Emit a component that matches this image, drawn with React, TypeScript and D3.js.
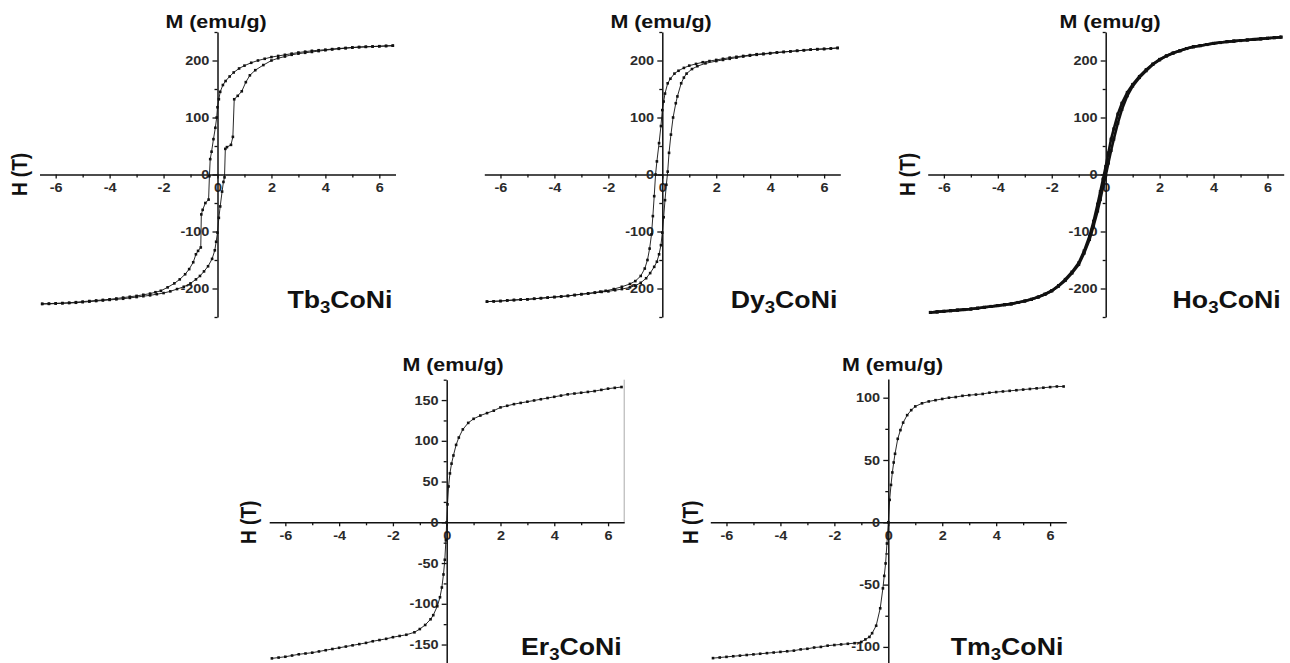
import * as d3 from "d3";
import { useEffect, useRef } from "react";

type Pt = [number, number];

// H axis ticks (T)
const H_TICKS = [-6, -4, -2, 0, 2, 4, 6];
const H_MINOR = [-5, -3, -1, 1, 3, 5];

// M axis ticks (emu/g)
const M_TICKS_250 = [-200, -100, 0, 100, 200];
const M_MINOR_250 = [-250, -150, -50, 50, 150, 250];
const M_TICKS_175 = [-150, -100, -50, 0, 50, 100, 150];
const M_MINOR_175 = [-175, -125, -75, -25, 25, 75, 125, 175];
const M_TICKS_115 = [-100, -50, 0, 50, 100];
const M_MINOR_115 = [-75, -25, 25, 75];

// Tb3CoNi loop
const tbDown: Pt[] = [
  [6.5, 226], [6.25, 225.5], [6, 225], [5.75, 224.5], [5.5, 224], [5.25, 223.5], [5, 223],
  [4.75, 222], [4.5, 221], [4.25, 220], [4, 219], [3.75, 218], [3.5, 217], [3.25, 215.5], [3, 214],
  [2.75, 212], [2.5, 210], [2.25, 208], [2, 206], [1.75, 203], [1.5, 200], [1.25, 196], [1, 191],
  [0.8, 186], [0.6, 179], [0.45, 172], [0.3, 164], [0.2, 157], [0.1, 145], [0.05, 132], [0, 118],
  [-0.03, 100], [-0.08, 82], [-0.15, 62], [-0.22, 40], [-0.27, 27], [-0.3, -3], [-0.33, -44],
  [-0.45, -50], [-0.55, -62], [-0.6, -70], [-0.62, -128], [-0.72, -134], [-0.8, -140], [-0.9, -154],
  [-1.05, -166], [-1.2, -175], [-1.4, -184], [-1.6, -191], [-1.85, -198], [-2.1, -204], [-2.3, -206.5],
  [-2.5, -209], [-2.75, -211], [-3, -213], [-3.25, -214.5], [-3.5, -216], [-3.75, -217.5], [-4, -219],
  [-4.25, -220], [-4.5, -221], [-4.75, -222], [-5, -223], [-5.25, -224], [-5.5, -225], [-5.75, -225.5],
  [-6, -226], [-6.25, -226.5], [-6.5, -227],
];
const tbUp: Pt[] = [
  [-6.5, -227], [-6.25, -227], [-6, -226.5], [-5.75, -226], [-5.5, -225.5], [-5.25, -225], [-5, -224],
  [-4.75, -223], [-4.5, -222], [-4.25, -221], [-4, -220], [-3.75, -219], [-3.5, -218], [-3.25, -216.5],
  [-3, -215], [-2.75, -213.5], [-2.5, -212], [-2.25, -210], [-2, -208], [-1.75, -205], [-1.5, -201],
  [-1.25, -197], [-1, -191], [-0.8, -184], [-0.65, -178], [-0.5, -170], [-0.35, -161], [-0.2, -148],
  [-0.1, -133], [-0.05, -118], [0, -102], [0.05, -76], [0.1, -56], [0.17, -30], [0.22, -13],
  [0.26, -5], [0.29, 45], [0.35, 48], [0.5, 52], [0.57, 66], [0.62, 132], [0.75, 138], [0.9, 146],
  [1.05, 162], [1.2, 174], [1.4, 183], [1.7, 192], [2, 200], [2.25, 204], [2.5, 207], [2.75, 210],
  [3, 212], [3.25, 213.5], [3.5, 215], [3.75, 216.5], [4, 218], [4.25, 219.5], [4.5, 220.5],
  [4.75, 221.5], [5, 222.5], [5.25, 223.5], [5.5, 224], [5.75, 224.5], [6, 225], [6.25, 225.5], [6.5, 226],
];

// Dy3CoNi loop
const dyDown: Pt[] = [
  [6.5, 222], [6.25, 221], [6, 220], [5.75, 219.5], [5.5, 219], [5.25, 218], [5, 217], [4.75, 216],
  [4.5, 215], [4.25, 214], [4, 213], [3.75, 212], [3.5, 211], [3.25, 209.5], [3, 208], [2.75, 206.5],
  [2.5, 205], [2.25, 203], [2, 201], [1.75, 199], [1.5, 197], [1.25, 194], [1, 191], [0.8, 187],
  [0.6, 182], [0.45, 177], [0.3, 168], [0.2, 160], [0.1, 142], [0.05, 128], [0, 113], [-0.05, 85],
  [-0.12, 55], [-0.2, 23], [-0.25, 0], [-0.3, -38], [-0.35, -73], [-0.4, -105], [-0.47, -130],
  [-0.55, -150], [-0.65, -165], [-0.8, -178], [-1, -187], [-1.2, -192], [-1.5, -197], [-1.8, -201],
  [-2.1, -204], [-2.3, -205.5], [-2.5, -207], [-2.75, -208.5], [-3, -210], [-3.25, -211.5], [-3.5, -213],
  [-3.75, -214], [-4, -215], [-4.25, -216], [-4.5, -217], [-4.75, -218], [-5, -219], [-5.25, -219.5],
  [-5.5, -220], [-5.75, -221], [-6, -222], [-6.25, -222.5], [-6.5, -223],
];
const dyUp: Pt[] = [
  [-6.5, -223], [-6.25, -222.5], [-6, -222], [-5.75, -221], [-5.5, -220.5], [-5.25, -219.5], [-5, -219],
  [-4.75, -218], [-4.5, -217], [-4.25, -216], [-4, -215], [-3.75, -214], [-3.5, -213], [-3.25, -211.5],
  [-3, -210], [-2.75, -209], [-2.5, -207.5], [-2.25, -206], [-2, -205], [-1.75, -203], [-1.5, -201],
  [-1.2, -198], [-1, -195], [-0.8, -190], [-0.6, -182], [-0.45, -173], [-0.3, -162], [-0.2, -153],
  [-0.12, -140], [-0.05, -124], [0, -102], [0.05, -75], [0.1, -45], [0.15, -18], [0.2, 5], [0.25, 38],
  [0.32, 70], [0.4, 100], [0.5, 125], [0.56, 137], [0.7, 160], [0.8, 170], [0.9, 177], [1.1, 185],
  [1.3, 190], [1.6, 195], [2, 199], [2.25, 201], [2.5, 203], [2.75, 205], [3, 207], [3.25, 208.5],
  [3.5, 210], [3.75, 211], [4, 212.5], [4.25, 214], [4.5, 215], [4.75, 216], [5, 217], [5.25, 218],
  [5.5, 219], [5.75, 220], [6, 220.5], [6.25, 221], [6.5, 222],
];

// Ho3CoNi loop (nearly closed)
const hoDown: Pt[] = [
  [6.5, 241], [6.25, 240], [6, 239], [5.75, 238], [5.5, 237], [5.25, 236], [5, 235], [4.75, 234],
  [4.5, 233], [4.25, 231.5], [4, 230], [3.75, 228], [3.5, 226], [3.25, 224], [3, 221], [2.75, 217],
  [2.5, 213], [2.25, 208], [2, 202], [1.75, 194], [1.5, 184], [1.25, 172], [1, 158], [0.8, 144],
  [0.6, 125], [0.45, 106], [0.3, 80], [0.2, 62], [0.1, 38], [0, 14], [-0.1, -8], [-0.2, -30],
  [-0.3, -52], [-0.45, -82], [-0.6, -108], [-0.8, -134], [-1, -155], [-1.25, -171], [-1.5, -184],
  [-1.75, -195], [-2, -204], [-2.25, -210], [-2.5, -215], [-2.75, -219], [-3, -222], [-3.25, -224.5],
  [-3.5, -227], [-3.75, -228.5], [-4, -230], [-4.25, -231.5], [-4.5, -233], [-4.75, -234.5], [-5, -236],
  [-5.25, -237], [-5.5, -238], [-5.75, -239], [-6, -240], [-6.25, -241], [-6.5, -242],
];
const hoUp: Pt[] = [
  [-6.5, -242], [-6.25, -241], [-6, -240], [-5.75, -239], [-5.5, -238], [-5.25, -237], [-5, -236],
  [-4.75, -234.5], [-4.5, -233], [-4.25, -231.5], [-4, -230], [-3.75, -228.5], [-3.5, -227],
  [-3.25, -224.5], [-3, -222], [-2.75, -219], [-2.5, -215], [-2.25, -210], [-2, -204], [-1.75, -196],
  [-1.5, -186], [-1.25, -173], [-1, -158], [-0.8, -138], [-0.6, -114], [-0.45, -90], [-0.3, -64],
  [-0.2, -44], [-0.1, -22], [0, -2], [0.1, 20], [0.2, 42], [0.3, 62], [0.45, 90], [0.6, 114],
  [0.8, 138], [1, 155], [1.25, 170], [1.5, 182], [1.75, 193], [2, 201], [2.25, 208], [2.5, 213],
  [2.75, 217], [3, 221], [3.25, 224], [3.5, 226], [3.75, 228], [4, 230], [4.25, 231.5], [4.5, 233],
  [4.75, 234], [5, 235], [5.25, 236], [5.5, 237], [5.75, 238], [6, 239], [6.25, 240], [6.5, 241],
];

// Er3CoNi
const erCurve: Pt[] = [
  [-6.5, -167], [-6.25, -166], [-6, -165], [-5.75, -163.5], [-5.5, -162], [-5.25, -161], [-5, -160],
  [-4.75, -158.5], [-4.5, -157], [-4.25, -155.5], [-4, -154], [-3.75, -152.5], [-3.5, -151],
  [-3.25, -149.5], [-3, -148], [-2.75, -146], [-2.5, -144.5], [-2.25, -143], [-2, -141],
  [-1.75, -139.5], [-1.5, -138], [-1.2, -135], [-1, -131], [-0.8, -126], [-0.6, -119], [-0.5, -114],
  [-0.35, -103], [-0.25, -92], [-0.18, -80], [-0.12, -64], [-0.07, -46], [-0.03, -22], [0, 0],
  [0.03, 22], [0.07, 44], [0.12, 60], [0.18, 72], [0.25, 82], [0.35, 95], [0.45, 104], [0.6, 114],
  [0.8, 122], [1, 127], [1.25, 131], [1.5, 134], [1.75, 137], [2, 141], [2.25, 143], [2.5, 145],
  [2.75, 146.5], [3, 148], [3.25, 149.5], [3.5, 151], [3.75, 152.5], [4, 154], [4.25, 155.5],
  [4.5, 157], [4.75, 158], [5, 159], [5.25, 160], [5.5, 161], [5.75, 162.5], [6, 164], [6.25, 165],
  [6.5, 166],
];

// Tm3CoNi
const tmCurve: Pt[] = [
  [-6.5, -109], [-6.25, -108.5], [-6, -108], [-5.75, -107.5], [-5.5, -107], [-5.25, -106.5],
  [-5, -106], [-4.75, -105.5], [-4.5, -105], [-4.25, -104.5], [-4, -104], [-3.75, -103.5],
  [-3.5, -103], [-3.25, -102], [-3, -101.5], [-2.75, -100.5], [-2.5, -100], [-2.25, -99],
  [-2, -98.5], [-1.75, -98], [-1.5, -97.5], [-1.25, -97], [-1, -96], [-0.85, -94], [-0.7, -92],
  [-0.6, -89], [-0.45, -83], [-0.3, -69], [-0.2, -53], [-0.15, -43], [-0.1, -33], [-0.05, -17],
  [0, 0], [0.05, 18], [0.1, 30], [0.15, 40], [0.2, 48], [0.25, 55], [0.35, 67], [0.45, 74],
  [0.55, 80], [0.7, 86], [0.85, 90], [1, 93], [1.25, 95.5], [1.5, 97], [1.75, 98], [2, 99],
  [2.25, 100], [2.5, 100.5], [2.75, 101.5], [3, 102], [3.25, 102.5], [3.5, 103], [3.75, 104],
  [4, 104.5], [4.25, 105], [4.5, 105.5], [4.75, 106], [5, 106.5], [5.25, 107], [5.5, 107.5],
  [5.75, 108], [6, 108.5], [6.25, 109], [6.5, 109],
];

const FONT = "'Liberation Sans', Arial, Helvetica, sans-serif";
const STRETCH = 1.16;

interface Panel {
  el: string;
  series: Pt[][];
  mMax: number;
  ticks: number[];
  minor: number[];
  cx: number;
  cy: number;
  halfW: number;
  halfH: number;
  titleX: number;
  titleY: number;
  showH: boolean;
  rightEdge?: boolean;
  heavy?: boolean;
}

const PANELS: Panel[] = [
  { el: "Tb", series: [tbDown, tbUp], mMax: 250, ticks: M_TICKS_250, minor: M_MINOR_250, cx: 217.5, cy: 174.5, halfW: 178, halfH: 142.5, titleX: 216, titleY: 27.5, showH: true },
  { el: "Dy", series: [dyDown, dyUp], mMax: 250, ticks: M_TICKS_250, minor: M_MINOR_250, cx: 662.3, cy: 174.5, halfW: 178, halfH: 142.5, titleX: 661, titleY: 27.5, showH: false },
  { el: "Ho", series: [hoDown, hoUp], mMax: 250, ticks: M_TICKS_250, minor: M_MINOR_250, cx: 1105.7, cy: 174.5, halfW: 178, halfH: 142.5, titleX: 1110, titleY: 27.5, showH: true, heavy: true },
  { el: "Er", series: [erCurve], mMax: 175, ticks: M_TICKS_175, minor: M_MINOR_175, cx: 446.7, cy: 522.3, halfW: 177.5, halfH: 142.6, titleX: 453, titleY: 370.7, showH: true, rightEdge: true },
  { el: "Tm", series: [tmCurve], mMax: 115, ticks: M_TICKS_115, minor: M_MINOR_115, cx: 888.3, cy: 522.3, halfW: 178, halfH: 143.3, titleX: 892.5, titleY: 370.7, showH: true },
];

function drawPanel(svg: d3.Selection<SVGSVGElement, unknown, null, undefined>, p: Panel) {
  const x = d3.scaleLinear().domain([-6.6, 6.6]).range([p.cx - p.halfW, p.cx + p.halfW]);
  const y = d3.scaleLinear().domain([-p.mMax, p.mMax]).range([p.cy + p.halfH, p.cy - p.halfH]);
  const g = svg.append("g");

  if (p.rightEdge) {
    g.append("line")
      .attr("x1", x(6.6)).attr("x2", x(6.6))
      .attr("y1", y(p.mMax)).attr("y2", y(0))
      .attr("stroke", "#aaa").attr("stroke-width", 1);
  }

  // minor ticks
  g.append("g")
    .attr("transform", `translate(0,${y(0)})`)
    .call(d3.axisBottom(x).tickValues(H_MINOR).tickSize(3).tickSizeOuter(0).tickFormat(() => ""))
    .call((a) => a.select(".domain").remove());
  g.append("g")
    .attr("transform", `translate(${x(0)},0)`)
    .call(d3.axisLeft(y).tickValues(p.minor).tickSize(3).tickSizeOuter(0).tickFormat(() => ""))
    .call((a) => a.select(".domain").remove());

  // major axes
  const xa = g.append("g")
    .attr("transform", `translate(0,${y(0)})`)
    .call(d3.axisBottom(x).tickValues(H_TICKS).tickSize(4).tickSizeOuter(0).tickPadding(5).tickFormat((d) => String(d)));
  const ya = g.append("g")
    .attr("transform", `translate(${x(0)},0)`)
    .call(d3.axisLeft(y).tickValues(p.ticks).tickSize(5).tickSizeOuter(0).tickPadding(2).tickFormat((d) => String(d)));

  [xa, ya].forEach((a) => {
    a.select(".domain").attr("stroke", "#111").attr("stroke-width", 1.5);
    a.selectAll(".tick text")
      .attr("fill", "#2a2a2a")
      .style("font-family", FONT)
      .style("font-weight", "bold")
      .style("font-size", "12.5px");
  });
  xa.selectAll(".tick text").attr("transform", `scale(${STRETCH},1)`);
  ya.selectAll(".tick text").attr("x", -7).attr("transform", `scale(${STRETCH},1)`);
  g.selectAll(".tick line").attr("stroke", "#111").attr("stroke-width", 1.3);

  // curves
  const line = d3.line<Pt>().x((d) => x(d[0])).y((d) => y(d[1]));
  const ms = p.heavy ? 3 : 2.6;
  p.series.forEach((s) => {
    g.append("path")
      .attr("d", line(s))
      .attr("fill", "none")
      .attr("stroke", "#111")
      .attr("stroke-width", p.heavy ? 2.6 : 0.9);
    g.append("g")
      .selectAll("rect")
      .data(s)
      .join("rect")
      .attr("x", (d) => x(d[0]) - ms / 2)
      .attr("y", (d) => y(d[1]) - ms / 2)
      .attr("width", ms)
      .attr("height", ms)
      .attr("fill", "#111");
  });

  // titles
  g.append("text")
    .attr("transform", `translate(${p.titleX},${p.titleY}) scale(${STRETCH},1)`)
    .attr("text-anchor", "middle")
    .style("font-family", FONT)
    .style("font-weight", "bold")
    .style("font-size", "18.5px")
    .attr("fill", "#111")
    .text("M (emu/g)");

  if (p.showH) {
    g.append("text")
      .attr("transform", `translate(${p.cx - 198},${p.cy}) rotate(-90) scale(1,${STRETCH})`)
      .attr("text-anchor", "middle")
      .attr("dy", "0.35em")
      .style("font-family", FONT)
      .style("font-weight", "bold")
      .style("font-size", "19px")
      .attr("fill", "#111")
      .text("H (T)");
  }

  const lab = g.append("text")
    .attr("transform", `translate(${p.cx + 175},${p.cy + 133}) scale(${STRETCH},1)`)
    .attr("text-anchor", "end")
    .style("font-family", FONT)
    .style("font-weight", "bold")
    .style("font-size", "23px")
    .attr("fill", "#111");
  lab.append("tspan").text(p.el);
  lab.append("tspan").attr("dy", 5).style("font-size", "16px").text("3");
  lab.append("tspan").attr("dy", -5).text("CoNi");
}

export default function App() {
  const ref = useRef<SVGSVGElement>(null);

  useEffect(() => {
    if (!ref.current) return;
    const svg = d3.select(ref.current);
    svg.selectAll("*").remove();
    PANELS.forEach((p) => drawPanel(svg, p));
  }, []);

  return (
    <div style={{ position: "absolute", left: 0, top: 0, background: "#fff" }}>
      <svg ref={ref} width={1290} height={663} style={{ display: "block" }} />
    </div>
  );
}
